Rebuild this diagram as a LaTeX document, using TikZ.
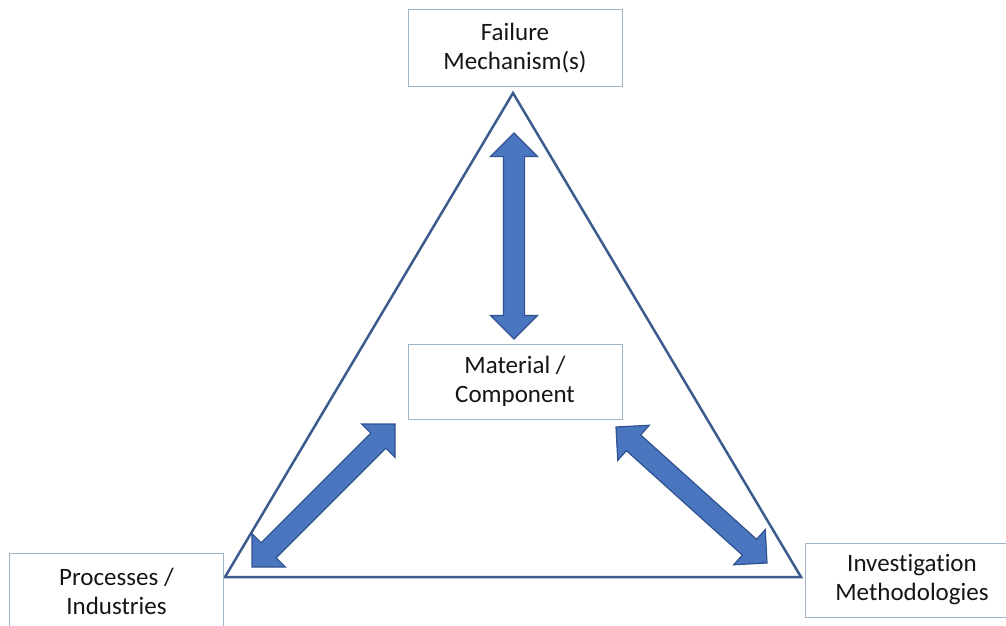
\documentclass[tikz,border=0pt]{standalone}
\usepackage{fontspec}
\setmainfont[Ligatures=NoCommon]{Carlito}
\usetikzlibrary{shapes.arrows,calc}

\definecolor{boxline}{HTML}{9FB4C7}
\definecolor{triline}{HTML}{3B5C8C}
\definecolor{arrfill}{HTML}{4A76C0}
\definecolor{arredge}{HTML}{2F528F}
\definecolor{labeltext}{HTML}{151515}

% block arrow between two points: name, from, to
\newcommand{\blockarrow}[3]{%
  \path let \p1=(#2), \p2=(#3), \n1={atan2(\y2-\y1,\x2-\x1)}, \n2={veclen(\x2-\x1,\y2-\y1)} in
    node[bigarrow, minimum height=\n2, rotate=\n1] (#1) at ($(#2)!0.5!(#3)$) {};}

\begin{document}
\begin{tikzpicture}[x=1pt, y=-1pt,
    labelbox/.style={draw=boxline, line width=1pt, fill=white, text=labeltext,
      minimum width=214, minimum height=76, align=center, inner sep=0pt,
      font=\fontsize{25}{29}\selectfont},
    bigarrow/.style={double arrow, draw=arredge, fill=arrfill, line width=1.2pt,
      inner xsep=0pt, inner ysep=10pt, double arrow head extend=13pt,
      double arrow tip angle=90},
    triedge/.style={draw=triline, line width=2.5pt, line join=miter}]

    \useasboundingbox (0,0) rectangle (1006,626);

    % triangle
    \draw[triedge] (513,93) -- (801,577) -- (225,577) -- cycle;

    % boxes
    \node[labelbox] (failure) at (515,48) {Failure\\Mechanism(s)};
    \node[labelbox, minimum height=75] (material) at (515,381.5) {Material /\\Component};
    \node[labelbox] (processes) at (116.5,591) {Processes /\\Industries};
    \node[labelbox, minimum height=74] (methods) at (912,580) {Investigation\\Methodologies};

    % arrow ends
    \coordinate (fm-end) at (514,133);
    \coordinate (mt-top) at (514,339);
    \coordinate (pr-end) at (252,567);
    \coordinate (mt-left) at (395,424);
    \coordinate (mt-right) at (616,427);
    \coordinate (me-end) at (767,563);

    % arrows
    \blockarrow{up}{fm-end}{mt-top}
    \blockarrow{left}{pr-end}{mt-left}
    \blockarrow{right}{mt-right}{me-end}
\end{tikzpicture}
\end{document}
